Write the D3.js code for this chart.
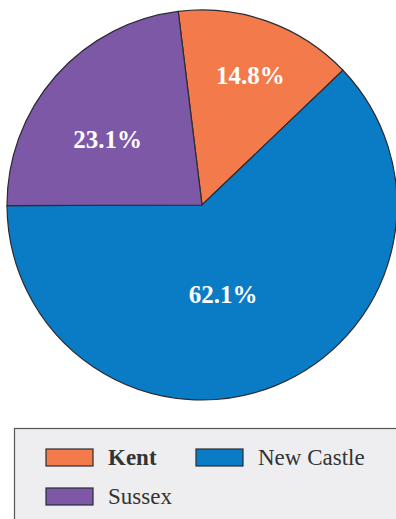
<!DOCTYPE html>
<html>
<head>
<meta charset="utf-8">
<script src="https://cdn.jsdelivr.net/npm/d3@7"></script>
<style>
  body { margin: 0; background: #fff; }
  svg { display: block; }
</style>
</head>
<body>
<svg id="chart" width="396" height="519"></svg>
<script>
// data
const counties = ["Kent", "New Castle", "Sussex"];
const shares = [14.8, 62.1, 23.1];
const colors = ["#f27a4b", "#0a7cc5", "#7d58a7"];

const svg = d3.select("#chart");
const cx = 202, cy = 205, r = 195;

const pie = d3.pie()
  .sort(null)
  .startAngle(-7 * Math.PI / 180)
  .endAngle(353 * Math.PI / 180)(shares);

const arc = d3.arc().innerRadius(0).outerRadius(r);

const g = svg.append("g").attr("transform", `translate(${cx},${cy})`);

g.selectAll("path")
  .data(pie)
  .enter().append("path")
  .attr("d", arc)
  .attr("fill", (d, i) => colors[i])
  .attr("stroke", "#2b2b33")
  .attr("stroke-width", 1.2);

// label placement: fraction of radius + small angle nudge (degrees)
const labelPos = [0.71, 0.47, 0.59];
const labelNudge = [0.8, 8.6, -6.6];
g.selectAll("text.pct")
  .data(pie)
  .enter().append("text")
  .attr("class", "pct")
  .attr("transform", (d, i) => {
    const a = (d.startAngle + d.endAngle) / 2 + labelNudge[i] * Math.PI / 180;
    const k = labelPos[i] * r;
    return `translate(${Math.sin(a) * k},${-Math.cos(a) * k})`;
  })
  .attr("text-anchor", "middle")
  .attr("dy", "0.35em")
  .style("font-family", "'Liberation Serif', 'DejaVu Serif', serif")
  .style("font-weight", "bold")
  .style("font-size", "25px")
  .style("fill", "#fff")
  .text(d => d.data.toFixed(1) + "%");

// legend
const legend = svg.append("g");
legend.append("rect")
  .attr("x", 14.5).attr("y", 428.5)
  .attr("width", 400).attr("height", 100)
  .attr("fill", "#eeeef0")
  .attr("stroke", "#555")
  .attr("stroke-width", 1.2);

const legendPos = [[46, 449], [196, 449], [46, 488]];
const items = legend.selectAll("g.item")
  .data(counties)
  .enter().append("g")
  .attr("class", "item")
  .attr("transform", (d, i) => `translate(${legendPos[i][0]},${legendPos[i][1]})`);

items.append("rect")
  .attr("width", 47).attr("height", 17)
  .attr("fill", (d, i) => colors[i])
  .attr("stroke", "#2b2b33")
  .attr("stroke-width", 1.2);

items.append("text")
  .attr("x", 62).attr("y", 16)
  .style("font-family", "'Liberation Serif', 'DejaVu Serif', serif")
  .style("font-size", "23px")
  .style("font-weight", (d, i) => i === 0 ? "bold" : "normal")
  .style("fill", "#333")
  .text(d => d);
</script>
</body>
</html>
